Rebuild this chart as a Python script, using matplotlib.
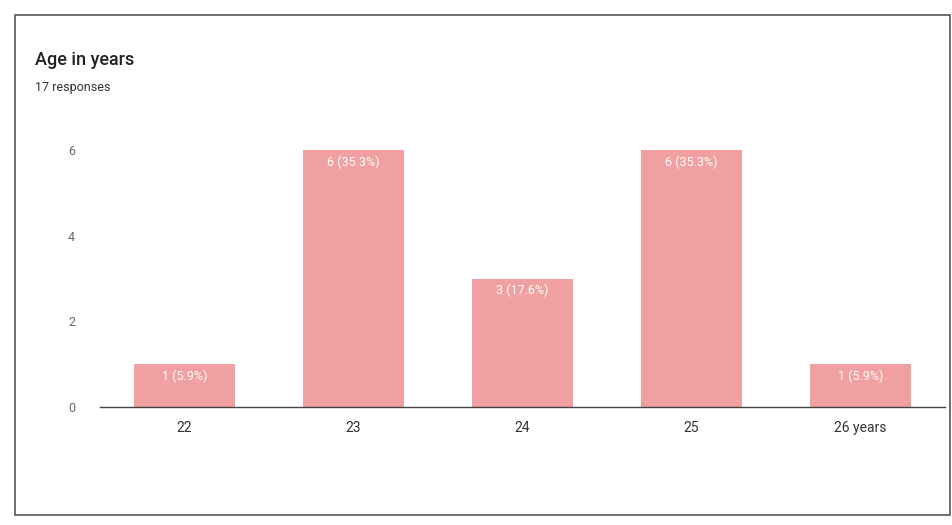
import matplotlib
matplotlib.use("Agg")
import matplotlib.pyplot as plt
from matplotlib.patches import Rectangle

categories = ["22", "23", "24", "25", "26 years"]
counts = [1, 6, 3, 6, 1]
labels = ["1 (5.9%)", "6 (35.3%)", "3 (17.6%)", "6 (35.3%)", "1 (5.9%)"]
yticks = [0, 2, 4, 6]

plt.rcParams['font.family'] = ['Roboto', 'DejaVu Sans']

fig = plt.figure(figsize=(9.53, 5.25), dpi=100)
fig.patch.set_facecolor("white")

# outer card border
fig.add_artist(Rectangle((15/953, 1-515/525), 935/953, 500/525, transform=fig.transFigure,
                         fill=False, edgecolor="#555555", linewidth=1.2))

ax = fig.add_axes([100/953, 1-407/525, 845/953, 257/525])
x = list(range(len(categories)))
ax.bar(x, counts, width=0.6, color="#F0A0A0", zorder=2)
for xi, c, lab in zip(x, counts, labels):
    ax.text(xi, c - 0.12, lab, ha="center", va="top", color="white", fontsize=9)

ax.set_xlim(-0.5, 4.5)
ax.set_ylim(0, 6)
ax.set_yticks(yticks)
ax.set_yticklabels([str(v) for v in yticks], color="#666666", fontsize=9)
ax.set_xticks(x)
ax.set_xticklabels(categories, color="#333333", fontsize=10)
ax.tick_params(axis="both", length=0)
ax.tick_params(axis="y", pad=18)
ax.tick_params(axis="x", pad=10)
for s in ["top", "right", "left"]:
    ax.spines[s].set_visible(False)
ax.spines["bottom"].set_color("#444444")
ax.spines["bottom"].set_linewidth(1.0)
ax.patch.set_alpha(0)

fig.text(35/953, 1-60/525, "Age in years", fontsize=13, color="#222222", va="center",
         fontweight="medium")
fig.text(35/953, 1-88/525, "17 responses", fontsize=9, color="#333333", va="center")

fig.savefig("out.png", dpi=100)
